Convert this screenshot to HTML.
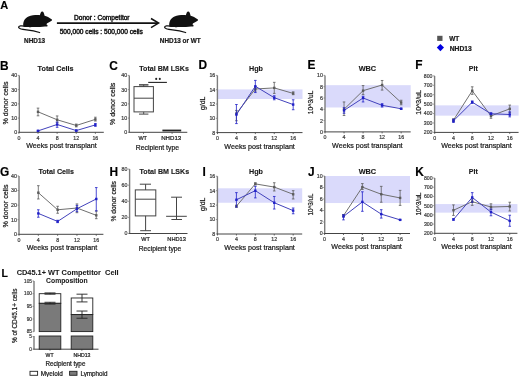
<!DOCTYPE html>
<html><head><meta charset="utf-8"><style>
html,body{margin:0;padding:0;background:#fff;}
svg{display:block;filter:blur(0.4px);}
text{font-family:"Liberation Sans",sans-serif;}
</style></head><body>
<svg width="520" height="377" viewBox="0 0 520 377">
<rect width="520" height="377" fill="#fff"/>
<text x="0.30" y="8.70" font-size="11.0" font-weight="bold" text-anchor="start" fill="#000" stroke="#000" stroke-width="0.15" >A</text>
<g transform="translate(0,0)"><path d="M23.4,26.4 C22.6,22.5 24.5,18.4 28.5,16.6 C31.5,15.2 35.5,14.9 38.5,15.0 C39.0,15.0 39.5,15.1 39.9,15.3 C40.2,13.8 40.7,12.3 41.5,11.8 C42.3,11.3 43.2,11.7 43.6,12.5 C44.0,13.4 44.3,14.5 44.6,15.7 C46.5,16.2 49.5,17.6 51.9,19.5 C52.3,19.9 51.9,20.6 51.2,21.0 C49.8,21.9 48.3,22.6 47.2,23.2 L46.4,24.3 C47.1,24.8 47.7,25.4 47.6,26.0 C47.4,26.6 46.0,26.6 45.0,26.4 C41.0,26.9 36.0,27.0 31.5,26.9 C30.6,27.3 29.4,27.4 28.8,27.0 C26.5,27.1 24.3,27.0 23.4,26.4 Z" fill="#111"/><path d="M24.4,26.1 C21.5,25.5 18.7,25.8 18.6,27.2 C18.6,28.6 22,29.4 26.5,29.9 C30.5,30.4 34.5,31.0 39.6,32.5" fill="none" stroke="#111" stroke-width="1.3" stroke-linecap="round"/></g>
<g transform="translate(146,0)"><path d="M23.4,26.4 C22.6,22.5 24.5,18.4 28.5,16.6 C31.5,15.2 35.5,14.9 38.5,15.0 C39.0,15.0 39.5,15.1 39.9,15.3 C40.2,13.8 40.7,12.3 41.5,11.8 C42.3,11.3 43.2,11.7 43.6,12.5 C44.0,13.4 44.3,14.5 44.6,15.7 C46.5,16.2 49.5,17.6 51.9,19.5 C52.3,19.9 51.9,20.6 51.2,21.0 C49.8,21.9 48.3,22.6 47.2,23.2 L46.4,24.3 C47.1,24.8 47.7,25.4 47.6,26.0 C47.4,26.6 46.0,26.6 45.0,26.4 C41.0,26.9 36.0,27.0 31.5,26.9 C30.6,27.3 29.4,27.4 28.8,27.0 C26.5,27.1 24.3,27.0 23.4,26.4 Z" fill="#111"/><path d="M24.4,26.1 C21.5,25.5 18.7,25.8 18.6,27.2 C18.6,28.6 22,29.4 26.5,29.9 C30.5,30.4 34.5,31.0 39.6,32.5" fill="none" stroke="#111" stroke-width="1.3" stroke-linecap="round"/></g>
<text x="34.60" y="42.70" font-size="6.5" font-weight="bold" text-anchor="middle" fill="#1a1a1a" stroke="#1a1a1a" stroke-width="0.22" textLength="21.0" lengthAdjust="spacingAndGlyphs" >NHD13</text>
<text x="180.20" y="42.90" font-size="6.5" font-weight="bold" text-anchor="middle" fill="#1a1a1a" stroke="#1a1a1a" stroke-width="0.22" textLength="40.8" lengthAdjust="spacingAndGlyphs" >NHD13 or WT</text>
<line x1="56.90" y1="23.10" x2="158.00" y2="23.10" stroke="#111" stroke-width="1.6" />
<polyline points="151,18.5 158.6,23.1 151,27.7" fill="none" stroke="#111" stroke-width="1.5"/>
<text x="101.80" y="19.60" font-size="6.6" font-weight="normal" text-anchor="middle" fill="#1a1a1a" stroke="#1a1a1a" stroke-width="0.45" textLength="55.5" lengthAdjust="spacingAndGlyphs" >Donor : Competitor</text>
<text x="101.30" y="33.80" font-size="6.6" font-weight="normal" text-anchor="middle" fill="#1a1a1a" stroke="#1a1a1a" stroke-width="0.45" textLength="83.2" lengthAdjust="spacingAndGlyphs" >500,000 cells : 500,000 cells</text>
<rect x="437.20" y="35.80" width="5.30" height="5.10" fill="#555" stroke="none" stroke-width="0"/>
<polygon points="440.4,43.9 444,47.6 440.4,51.3 436.8,47.6" fill="#0000e0"/>
<text x="449.30" y="40.90" font-size="6.5" font-weight="bold" text-anchor="start" fill="#1a1a1a" stroke="#1a1a1a" stroke-width="0.22" textLength="10.0" lengthAdjust="spacingAndGlyphs" >WT</text>
<text x="449.70" y="50.80" font-size="6.6" font-weight="bold" text-anchor="start" fill="#1a1a1a" stroke="#1a1a1a" stroke-width="0.22" textLength="22.0" lengthAdjust="spacingAndGlyphs" >NHD13</text>
<text x="0.10" y="69.60" font-size="11.9" font-weight="bold" text-anchor="start" fill="#000" stroke="#000" stroke-width="0.15" >B</text>
<line x1="19.30" y1="75.40" x2="19.30" y2="132.30" stroke="#7c7c7c" stroke-width="1.4" />
<line x1="17.80" y1="132.30" x2="19.30" y2="132.30" stroke="#7c7c7c" stroke-width="0.8" />
<text x="17.20" y="134.21" font-size="5.3" font-weight="normal" text-anchor="end" fill="#3a3a3a" stroke="#3a3a3a" stroke-width="0.2" >0</text>
<line x1="17.80" y1="118.08" x2="19.30" y2="118.08" stroke="#7c7c7c" stroke-width="0.8" />
<text x="17.20" y="119.98" font-size="5.3" font-weight="normal" text-anchor="end" fill="#3a3a3a" stroke="#3a3a3a" stroke-width="0.2" >10</text>
<line x1="17.80" y1="103.85" x2="19.30" y2="103.85" stroke="#7c7c7c" stroke-width="0.8" />
<text x="17.20" y="105.76" font-size="5.3" font-weight="normal" text-anchor="end" fill="#3a3a3a" stroke="#3a3a3a" stroke-width="0.2" >20</text>
<line x1="17.80" y1="89.62" x2="19.30" y2="89.62" stroke="#7c7c7c" stroke-width="0.8" />
<text x="17.20" y="91.53" font-size="5.3" font-weight="normal" text-anchor="end" fill="#3a3a3a" stroke="#3a3a3a" stroke-width="0.2" >30</text>
<line x1="17.80" y1="75.40" x2="19.30" y2="75.40" stroke="#7c7c7c" stroke-width="0.8" />
<text x="17.20" y="77.31" font-size="5.3" font-weight="normal" text-anchor="end" fill="#3a3a3a" stroke="#3a3a3a" stroke-width="0.2" >40</text>
<line x1="18.80" y1="132.30" x2="103.80" y2="132.30" stroke="#444" stroke-width="1.0" />
<line x1="18.90" y1="132.30" x2="18.90" y2="133.80" stroke="#444" stroke-width="0.8" />
<text x="18.90" y="139.50" font-size="5.3" font-weight="normal" text-anchor="middle" fill="#3a3a3a" stroke="#3a3a3a" stroke-width="0.2" >0</text>
<line x1="38.02" y1="132.30" x2="38.02" y2="133.80" stroke="#444" stroke-width="0.8" />
<text x="38.02" y="139.50" font-size="5.3" font-weight="normal" text-anchor="middle" fill="#3a3a3a" stroke="#3a3a3a" stroke-width="0.2" >4</text>
<line x1="57.14" y1="132.30" x2="57.14" y2="133.80" stroke="#444" stroke-width="0.8" />
<text x="57.14" y="139.50" font-size="5.3" font-weight="normal" text-anchor="middle" fill="#3a3a3a" stroke="#3a3a3a" stroke-width="0.2" >8</text>
<line x1="76.26" y1="132.30" x2="76.26" y2="133.80" stroke="#444" stroke-width="0.8" />
<text x="76.26" y="139.50" font-size="5.3" font-weight="normal" text-anchor="middle" fill="#3a3a3a" stroke="#3a3a3a" stroke-width="0.2" >12</text>
<line x1="95.38" y1="132.30" x2="95.38" y2="133.80" stroke="#444" stroke-width="0.8" />
<text x="95.38" y="139.50" font-size="5.3" font-weight="normal" text-anchor="middle" fill="#3a3a3a" stroke="#3a3a3a" stroke-width="0.2" >16</text>
<polyline points="38.02,111.82 57.14,119.78 76.26,125.47 95.38,119.36" fill="none" stroke="#707070" stroke-width="1.0"/>
<line x1="38.02" y1="108.12" x2="38.02" y2="115.80" stroke="#5c5c5c" stroke-width="0.8" />
<line x1="36.72" y1="108.12" x2="39.32" y2="108.12" stroke="#5c5c5c" stroke-width="0.8" />
<line x1="36.72" y1="115.80" x2="39.32" y2="115.80" stroke="#5c5c5c" stroke-width="0.8" />
<rect x="36.82" y="110.62" width="2.40" height="2.40" fill="#5c5c5c" stroke="none" stroke-width="0"/>
<line x1="57.14" y1="115.94" x2="57.14" y2="122.34" stroke="#5c5c5c" stroke-width="0.8" />
<line x1="55.84" y1="115.94" x2="58.44" y2="115.94" stroke="#5c5c5c" stroke-width="0.8" />
<line x1="55.84" y1="122.34" x2="58.44" y2="122.34" stroke="#5c5c5c" stroke-width="0.8" />
<rect x="55.94" y="118.58" width="2.40" height="2.40" fill="#5c5c5c" stroke="none" stroke-width="0"/>
<line x1="76.26" y1="124.05" x2="76.26" y2="126.89" stroke="#5c5c5c" stroke-width="0.8" />
<line x1="74.96" y1="124.05" x2="77.56" y2="124.05" stroke="#5c5c5c" stroke-width="0.8" />
<line x1="74.96" y1="126.89" x2="77.56" y2="126.89" stroke="#5c5c5c" stroke-width="0.8" />
<rect x="75.06" y="124.27" width="2.40" height="2.40" fill="#5c5c5c" stroke="none" stroke-width="0"/>
<line x1="95.38" y1="117.22" x2="95.38" y2="121.06" stroke="#5c5c5c" stroke-width="0.8" />
<line x1="94.08" y1="117.22" x2="96.68" y2="117.22" stroke="#5c5c5c" stroke-width="0.8" />
<line x1="94.08" y1="121.06" x2="96.68" y2="121.06" stroke="#5c5c5c" stroke-width="0.8" />
<rect x="94.18" y="118.16" width="2.40" height="2.40" fill="#5c5c5c" stroke="none" stroke-width="0"/>
<polyline points="38.02,130.88 57.14,124.48 76.26,130.59 95.38,124.90" fill="none" stroke="#4242bc" stroke-width="1.0"/>
<line x1="38.02" y1="130.31" x2="38.02" y2="131.45" stroke="#2020c8" stroke-width="0.8" />
<line x1="36.72" y1="130.31" x2="39.32" y2="130.31" stroke="#2020c8" stroke-width="0.8" />
<line x1="36.72" y1="131.45" x2="39.32" y2="131.45" stroke="#2020c8" stroke-width="0.8" />
<rect x="36.82" y="129.68" width="2.40" height="2.40" fill="#2020c8" stroke="none" stroke-width="0"/>
<line x1="57.14" y1="122.06" x2="57.14" y2="127.32" stroke="#2020c8" stroke-width="0.8" />
<line x1="55.84" y1="122.06" x2="58.44" y2="122.06" stroke="#2020c8" stroke-width="0.8" />
<line x1="55.84" y1="127.32" x2="58.44" y2="127.32" stroke="#2020c8" stroke-width="0.8" />
<rect x="55.94" y="123.28" width="2.40" height="2.40" fill="#2020c8" stroke="none" stroke-width="0"/>
<line x1="76.26" y1="129.88" x2="76.26" y2="131.30" stroke="#2020c8" stroke-width="0.8" />
<line x1="74.96" y1="129.88" x2="77.56" y2="129.88" stroke="#2020c8" stroke-width="0.8" />
<line x1="74.96" y1="131.30" x2="77.56" y2="131.30" stroke="#2020c8" stroke-width="0.8" />
<rect x="75.06" y="129.39" width="2.40" height="2.40" fill="#2020c8" stroke="none" stroke-width="0"/>
<line x1="95.38" y1="123.48" x2="95.38" y2="126.33" stroke="#2020c8" stroke-width="0.8" />
<line x1="94.08" y1="123.48" x2="96.68" y2="123.48" stroke="#2020c8" stroke-width="0.8" />
<line x1="94.08" y1="126.33" x2="96.68" y2="126.33" stroke="#2020c8" stroke-width="0.8" />
<rect x="94.18" y="123.70" width="2.40" height="2.40" fill="#2020c8" stroke="none" stroke-width="0"/>
<text x="55.60" y="70.80" font-size="7.7" font-weight="bold" text-anchor="middle" fill="#1a1a1a" stroke="#1a1a1a" stroke-width="0.14" textLength="36.0" lengthAdjust="spacingAndGlyphs" >Total Cells</text>
<text x="7.60" y="103.00" font-size="7.2" font-weight="normal" text-anchor="middle" fill="#1a1a1a" stroke="#1a1a1a" stroke-width="0.22" transform="rotate(-90 7.60 103.00)" textLength="43.0" lengthAdjust="spacingAndGlyphs" >% donor cells</text>
<text x="61.44" y="148.20" font-size="7.2" font-weight="normal" text-anchor="middle" fill="#1a1a1a" stroke="#1a1a1a" stroke-width="0.22" textLength="70.5" lengthAdjust="spacingAndGlyphs" >Weeks post transplant</text>
<text x="109.20" y="69.60" font-size="11.9" font-weight="bold" text-anchor="start" fill="#000" stroke="#000" stroke-width="0.15" >C</text>
<line x1="129.30" y1="75.40" x2="129.30" y2="132.30" stroke="#7c7c7c" stroke-width="1.4" />
<line x1="127.80" y1="132.30" x2="129.30" y2="132.30" stroke="#7c7c7c" stroke-width="0.8" />
<text x="127.20" y="134.21" font-size="5.3" font-weight="normal" text-anchor="end" fill="#3a3a3a" stroke="#3a3a3a" stroke-width="0.2" >0</text>
<line x1="127.80" y1="118.08" x2="129.30" y2="118.08" stroke="#7c7c7c" stroke-width="0.8" />
<text x="127.20" y="119.98" font-size="5.3" font-weight="normal" text-anchor="end" fill="#3a3a3a" stroke="#3a3a3a" stroke-width="0.2" >10</text>
<line x1="127.80" y1="103.85" x2="129.30" y2="103.85" stroke="#7c7c7c" stroke-width="0.8" />
<text x="127.20" y="105.76" font-size="5.3" font-weight="normal" text-anchor="end" fill="#3a3a3a" stroke="#3a3a3a" stroke-width="0.2" >20</text>
<line x1="127.80" y1="89.62" x2="129.30" y2="89.62" stroke="#7c7c7c" stroke-width="0.8" />
<text x="127.20" y="91.53" font-size="5.3" font-weight="normal" text-anchor="end" fill="#3a3a3a" stroke="#3a3a3a" stroke-width="0.2" >30</text>
<line x1="127.80" y1="75.40" x2="129.30" y2="75.40" stroke="#7c7c7c" stroke-width="0.8" />
<text x="127.20" y="77.31" font-size="5.3" font-weight="normal" text-anchor="end" fill="#3a3a3a" stroke="#3a3a3a" stroke-width="0.2" >40</text>
<line x1="128.80" y1="132.30" x2="187.30" y2="132.30" stroke="#444" stroke-width="1.0" />
<line x1="143.50" y1="132.30" x2="143.50" y2="133.80" stroke="#444" stroke-width="0.8" />
<line x1="172.10" y1="132.30" x2="172.10" y2="133.80" stroke="#444" stroke-width="0.8" />
<text x="142.70" y="139.80" font-size="5.9" font-weight="normal" text-anchor="middle" fill="#1a1a1a" stroke="#1a1a1a" stroke-width="0.22" textLength="8.6" lengthAdjust="spacingAndGlyphs" >WT</text>
<text x="171.20" y="139.80" font-size="5.9" font-weight="normal" text-anchor="middle" fill="#1a1a1a" stroke="#1a1a1a" stroke-width="0.22" textLength="20.0" lengthAdjust="spacingAndGlyphs" >NHD13</text>
<text x="157.40" y="150.10" font-size="6.8" font-weight="normal" text-anchor="middle" fill="#1a1a1a" stroke="#1a1a1a" stroke-width="0.22" textLength="43.2" lengthAdjust="spacingAndGlyphs" >Recipient type</text>
<text x="164.10" y="71.30" font-size="7.6" font-weight="bold" text-anchor="middle" fill="#1a1a1a" stroke="#1a1a1a" stroke-width="0.14" textLength="49.6" lengthAdjust="spacingAndGlyphs" >Total BM LSKs</text>
<text x="115.40" y="103.85" font-size="7.2" font-weight="normal" text-anchor="middle" fill="#1a1a1a" stroke="#1a1a1a" stroke-width="0.22" transform="rotate(-90 115.40 103.85)" textLength="42.5" lengthAdjust="spacingAndGlyphs" >% donor cells</text>
<rect x="139.00" y="84.60" width="9.40" height="2.00" fill="#9a9a9a" stroke="none" stroke-width="0"/>
<line x1="143.70" y1="84.80" x2="143.70" y2="86.90" stroke="#444" stroke-width="0.9" />
<line x1="139.00" y1="84.60" x2="148.40" y2="84.60" stroke="#444" stroke-width="0.9" />
<rect x="134.0" y="86.6" width="19.40" height="25.30" fill="none" stroke="#444" stroke-width="1.0"/>
<line x1="134.00" y1="98.20" x2="153.40" y2="98.20" stroke="#444" stroke-width="1.0" />
<line x1="143.70" y1="111.90" x2="143.70" y2="114.10" stroke="#444" stroke-width="0.9" />
<line x1="139.00" y1="114.10" x2="148.40" y2="114.10" stroke="#444" stroke-width="1.0" />
<rect x="162.40" y="129.60" width="18.80" height="1.80" fill="#222" stroke="none" stroke-width="0"/>
<line x1="148.20" y1="82.40" x2="166.90" y2="82.40" stroke="#222" stroke-width="1.1" />
<circle cx="156.2" cy="78.9" r="1.05" fill="#222"/><circle cx="159.8" cy="78.9" r="1.05" fill="#222"/>
<text x="198.60" y="69.40" font-size="11.9" font-weight="bold" text-anchor="start" fill="#000" stroke="#000" stroke-width="0.15" >D</text>
<rect x="217.40" y="89.41" width="85.10" height="9.58" fill="#dadafb" stroke="none" stroke-width="0"/>
<line x1="217.40" y1="75.40" x2="217.40" y2="132.60" stroke="#7c7c7c" stroke-width="1.4" />
<line x1="215.90" y1="132.60" x2="217.40" y2="132.60" stroke="#7c7c7c" stroke-width="0.8" />
<text x="215.30" y="134.51" font-size="5.3" font-weight="normal" text-anchor="end" fill="#3a3a3a" stroke="#3a3a3a" stroke-width="0.2" >8</text>
<line x1="215.90" y1="118.30" x2="217.40" y2="118.30" stroke="#7c7c7c" stroke-width="0.8" />
<text x="215.30" y="120.21" font-size="5.3" font-weight="normal" text-anchor="end" fill="#3a3a3a" stroke="#3a3a3a" stroke-width="0.2" >10</text>
<line x1="215.90" y1="104.00" x2="217.40" y2="104.00" stroke="#7c7c7c" stroke-width="0.8" />
<text x="215.30" y="105.91" font-size="5.3" font-weight="normal" text-anchor="end" fill="#3a3a3a" stroke="#3a3a3a" stroke-width="0.2" >12</text>
<line x1="215.90" y1="89.70" x2="217.40" y2="89.70" stroke="#7c7c7c" stroke-width="0.8" />
<text x="215.30" y="91.61" font-size="5.3" font-weight="normal" text-anchor="end" fill="#3a3a3a" stroke="#3a3a3a" stroke-width="0.2" >14</text>
<line x1="215.90" y1="75.40" x2="217.40" y2="75.40" stroke="#7c7c7c" stroke-width="0.8" />
<text x="215.30" y="77.31" font-size="5.3" font-weight="normal" text-anchor="end" fill="#3a3a3a" stroke="#3a3a3a" stroke-width="0.2" >16</text>
<line x1="216.90" y1="132.60" x2="302.50" y2="132.60" stroke="#444" stroke-width="1.0" />
<line x1="217.50" y1="132.60" x2="217.50" y2="134.10" stroke="#444" stroke-width="0.8" />
<text x="217.50" y="139.80" font-size="5.3" font-weight="normal" text-anchor="middle" fill="#3a3a3a" stroke="#3a3a3a" stroke-width="0.2" >0</text>
<line x1="236.42" y1="132.60" x2="236.42" y2="134.10" stroke="#444" stroke-width="0.8" />
<text x="236.42" y="139.80" font-size="5.3" font-weight="normal" text-anchor="middle" fill="#3a3a3a" stroke="#3a3a3a" stroke-width="0.2" >4</text>
<line x1="255.34" y1="132.60" x2="255.34" y2="134.10" stroke="#444" stroke-width="0.8" />
<text x="255.34" y="139.80" font-size="5.3" font-weight="normal" text-anchor="middle" fill="#3a3a3a" stroke="#3a3a3a" stroke-width="0.2" >8</text>
<line x1="274.26" y1="132.60" x2="274.26" y2="134.10" stroke="#444" stroke-width="0.8" />
<text x="274.26" y="139.80" font-size="5.3" font-weight="normal" text-anchor="middle" fill="#3a3a3a" stroke="#3a3a3a" stroke-width="0.2" >12</text>
<line x1="293.18" y1="132.60" x2="293.18" y2="134.10" stroke="#444" stroke-width="0.8" />
<text x="293.18" y="139.80" font-size="5.3" font-weight="normal" text-anchor="middle" fill="#3a3a3a" stroke="#3a3a3a" stroke-width="0.2" >16</text>
<polyline points="236.42,113.51 255.34,88.98 274.26,87.91 293.18,93.42" fill="none" stroke="#707070" stroke-width="1.0"/>
<line x1="236.42" y1="110.44" x2="236.42" y2="120.73" stroke="#5c5c5c" stroke-width="0.8" />
<line x1="235.12" y1="110.44" x2="237.72" y2="110.44" stroke="#5c5c5c" stroke-width="0.8" />
<line x1="235.12" y1="120.73" x2="237.72" y2="120.73" stroke="#5c5c5c" stroke-width="0.8" />
<rect x="235.22" y="112.31" width="2.40" height="2.40" fill="#5c5c5c" stroke="none" stroke-width="0"/>
<line x1="255.34" y1="86.84" x2="255.34" y2="91.13" stroke="#5c5c5c" stroke-width="0.8" />
<line x1="254.04" y1="86.84" x2="256.64" y2="86.84" stroke="#5c5c5c" stroke-width="0.8" />
<line x1="254.04" y1="91.13" x2="256.64" y2="91.13" stroke="#5c5c5c" stroke-width="0.8" />
<rect x="254.14" y="87.78" width="2.40" height="2.40" fill="#5c5c5c" stroke="none" stroke-width="0"/>
<line x1="274.26" y1="82.34" x2="274.26" y2="93.42" stroke="#5c5c5c" stroke-width="0.8" />
<line x1="272.96" y1="82.34" x2="275.56" y2="82.34" stroke="#5c5c5c" stroke-width="0.8" />
<line x1="272.96" y1="93.42" x2="275.56" y2="93.42" stroke="#5c5c5c" stroke-width="0.8" />
<rect x="273.06" y="86.71" width="2.40" height="2.40" fill="#5c5c5c" stroke="none" stroke-width="0"/>
<line x1="293.18" y1="91.84" x2="293.18" y2="94.70" stroke="#5c5c5c" stroke-width="0.8" />
<line x1="291.88" y1="91.84" x2="294.48" y2="91.84" stroke="#5c5c5c" stroke-width="0.8" />
<line x1="291.88" y1="94.70" x2="294.48" y2="94.70" stroke="#5c5c5c" stroke-width="0.8" />
<rect x="291.98" y="92.22" width="2.40" height="2.40" fill="#5c5c5c" stroke="none" stroke-width="0"/>
<polyline points="236.42,114.58 255.34,86.27 274.26,97.71 293.18,104.57" fill="none" stroke="#4242bc" stroke-width="1.0"/>
<line x1="236.42" y1="104.50" x2="236.42" y2="123.59" stroke="#2020c8" stroke-width="0.8" />
<line x1="235.12" y1="104.50" x2="237.72" y2="104.50" stroke="#2020c8" stroke-width="0.8" />
<line x1="235.12" y1="123.59" x2="237.72" y2="123.59" stroke="#2020c8" stroke-width="0.8" />
<rect x="235.22" y="113.38" width="2.40" height="2.40" fill="#2020c8" stroke="none" stroke-width="0"/>
<line x1="255.34" y1="80.40" x2="255.34" y2="92.56" stroke="#2020c8" stroke-width="0.8" />
<line x1="254.04" y1="80.40" x2="256.64" y2="80.40" stroke="#2020c8" stroke-width="0.8" />
<line x1="254.04" y1="92.56" x2="256.64" y2="92.56" stroke="#2020c8" stroke-width="0.8" />
<rect x="254.14" y="85.07" width="2.40" height="2.40" fill="#2020c8" stroke="none" stroke-width="0"/>
<line x1="274.26" y1="95.78" x2="274.26" y2="99.78" stroke="#2020c8" stroke-width="0.8" />
<line x1="272.96" y1="95.78" x2="275.56" y2="95.78" stroke="#2020c8" stroke-width="0.8" />
<line x1="272.96" y1="99.78" x2="275.56" y2="99.78" stroke="#2020c8" stroke-width="0.8" />
<rect x="273.06" y="96.51" width="2.40" height="2.40" fill="#2020c8" stroke="none" stroke-width="0"/>
<line x1="293.18" y1="99.78" x2="293.18" y2="109.72" stroke="#2020c8" stroke-width="0.8" />
<line x1="291.88" y1="99.78" x2="294.48" y2="99.78" stroke="#2020c8" stroke-width="0.8" />
<line x1="291.88" y1="109.72" x2="294.48" y2="109.72" stroke="#2020c8" stroke-width="0.8" />
<rect x="291.98" y="103.37" width="2.40" height="2.40" fill="#2020c8" stroke="none" stroke-width="0"/>
<text x="256.00" y="71.10" font-size="7.7" font-weight="bold" text-anchor="middle" fill="#1a1a1a" stroke="#1a1a1a" stroke-width="0.14" textLength="14.0" lengthAdjust="spacingAndGlyphs" >Hgb</text>
<text x="205.30" y="103.40" font-size="6.4" font-weight="normal" text-anchor="middle" fill="#1a1a1a" stroke="#1a1a1a" stroke-width="0.22" transform="rotate(-90 205.30 103.40)" textLength="13.4" lengthAdjust="spacingAndGlyphs" >g/dL</text>
<text x="259.60" y="148.50" font-size="7.2" font-weight="normal" text-anchor="middle" fill="#1a1a1a" stroke="#1a1a1a" stroke-width="0.22" textLength="70.5" lengthAdjust="spacingAndGlyphs" >Weeks post transplant</text>
<text x="307.60" y="69.40" font-size="11.9" font-weight="bold" text-anchor="start" fill="#000" stroke="#000" stroke-width="0.15" >E</text>
<rect x="325.00" y="85.17" width="85.70" height="22.32" fill="#dadafb" stroke="none" stroke-width="0"/>
<line x1="325.00" y1="75.40" x2="325.00" y2="131.90" stroke="#7c7c7c" stroke-width="1.4" />
<line x1="323.50" y1="131.90" x2="325.00" y2="131.90" stroke="#7c7c7c" stroke-width="0.8" />
<text x="322.90" y="133.81" font-size="5.3" font-weight="normal" text-anchor="end" fill="#3a3a3a" stroke="#3a3a3a" stroke-width="0.2" >0</text>
<line x1="323.50" y1="120.60" x2="325.00" y2="120.60" stroke="#7c7c7c" stroke-width="0.8" />
<text x="322.90" y="122.51" font-size="5.3" font-weight="normal" text-anchor="end" fill="#3a3a3a" stroke="#3a3a3a" stroke-width="0.2" >2</text>
<line x1="323.50" y1="109.30" x2="325.00" y2="109.30" stroke="#7c7c7c" stroke-width="0.8" />
<text x="322.90" y="111.21" font-size="5.3" font-weight="normal" text-anchor="end" fill="#3a3a3a" stroke="#3a3a3a" stroke-width="0.2" >4</text>
<line x1="323.50" y1="98.00" x2="325.00" y2="98.00" stroke="#7c7c7c" stroke-width="0.8" />
<text x="322.90" y="99.91" font-size="5.3" font-weight="normal" text-anchor="end" fill="#3a3a3a" stroke="#3a3a3a" stroke-width="0.2" >6</text>
<line x1="323.50" y1="86.70" x2="325.00" y2="86.70" stroke="#7c7c7c" stroke-width="0.8" />
<text x="322.90" y="88.61" font-size="5.3" font-weight="normal" text-anchor="end" fill="#3a3a3a" stroke="#3a3a3a" stroke-width="0.2" >8</text>
<line x1="323.50" y1="75.40" x2="325.00" y2="75.40" stroke="#7c7c7c" stroke-width="0.8" />
<text x="322.90" y="77.31" font-size="5.3" font-weight="normal" text-anchor="end" fill="#3a3a3a" stroke="#3a3a3a" stroke-width="0.2" >10</text>
<line x1="324.50" y1="131.90" x2="410.70" y2="131.90" stroke="#444" stroke-width="1.0" />
<line x1="325.00" y1="131.90" x2="325.00" y2="133.40" stroke="#444" stroke-width="0.8" />
<text x="325.00" y="139.10" font-size="5.3" font-weight="normal" text-anchor="middle" fill="#3a3a3a" stroke="#3a3a3a" stroke-width="0.2" >0</text>
<line x1="344.04" y1="131.90" x2="344.04" y2="133.40" stroke="#444" stroke-width="0.8" />
<text x="344.04" y="139.10" font-size="5.3" font-weight="normal" text-anchor="middle" fill="#3a3a3a" stroke="#3a3a3a" stroke-width="0.2" >4</text>
<line x1="363.08" y1="131.90" x2="363.08" y2="133.40" stroke="#444" stroke-width="0.8" />
<text x="363.08" y="139.10" font-size="5.3" font-weight="normal" text-anchor="middle" fill="#3a3a3a" stroke="#3a3a3a" stroke-width="0.2" >8</text>
<line x1="382.12" y1="131.90" x2="382.12" y2="133.40" stroke="#444" stroke-width="0.8" />
<text x="382.12" y="139.10" font-size="5.3" font-weight="normal" text-anchor="middle" fill="#3a3a3a" stroke="#3a3a3a" stroke-width="0.2" >12</text>
<line x1="401.16" y1="131.90" x2="401.16" y2="133.40" stroke="#444" stroke-width="0.8" />
<text x="401.16" y="139.10" font-size="5.3" font-weight="normal" text-anchor="middle" fill="#3a3a3a" stroke="#3a3a3a" stroke-width="0.2" >16</text>
<polyline points="344.04,109.30 363.08,90.66 382.12,85.00 401.16,102.52" fill="none" stroke="#707070" stroke-width="1.0"/>
<line x1="344.04" y1="101.96" x2="344.04" y2="115.52" stroke="#5c5c5c" stroke-width="0.8" />
<line x1="342.74" y1="101.96" x2="345.34" y2="101.96" stroke="#5c5c5c" stroke-width="0.8" />
<line x1="342.74" y1="115.52" x2="345.34" y2="115.52" stroke="#5c5c5c" stroke-width="0.8" />
<rect x="342.84" y="108.10" width="2.40" height="2.40" fill="#5c5c5c" stroke="none" stroke-width="0"/>
<line x1="363.08" y1="85.57" x2="363.08" y2="94.61" stroke="#5c5c5c" stroke-width="0.8" />
<line x1="361.78" y1="85.57" x2="364.38" y2="85.57" stroke="#5c5c5c" stroke-width="0.8" />
<line x1="361.78" y1="94.61" x2="364.38" y2="94.61" stroke="#5c5c5c" stroke-width="0.8" />
<rect x="361.88" y="89.45" width="2.40" height="2.40" fill="#5c5c5c" stroke="none" stroke-width="0"/>
<line x1="382.12" y1="80.49" x2="382.12" y2="90.09" stroke="#5c5c5c" stroke-width="0.8" />
<line x1="380.82" y1="80.49" x2="383.42" y2="80.49" stroke="#5c5c5c" stroke-width="0.8" />
<line x1="380.82" y1="90.09" x2="383.42" y2="90.09" stroke="#5c5c5c" stroke-width="0.8" />
<rect x="380.92" y="83.80" width="2.40" height="2.40" fill="#5c5c5c" stroke="none" stroke-width="0"/>
<line x1="401.16" y1="100.26" x2="401.16" y2="104.78" stroke="#5c5c5c" stroke-width="0.8" />
<line x1="399.86" y1="100.26" x2="402.46" y2="100.26" stroke="#5c5c5c" stroke-width="0.8" />
<line x1="399.86" y1="104.78" x2="402.46" y2="104.78" stroke="#5c5c5c" stroke-width="0.8" />
<rect x="399.96" y="101.32" width="2.40" height="2.40" fill="#5c5c5c" stroke="none" stroke-width="0"/>
<polyline points="344.04,110.43 363.08,98.00 382.12,105.34 401.16,108.74" fill="none" stroke="#4242bc" stroke-width="1.0"/>
<line x1="344.04" y1="107.61" x2="344.04" y2="113.26" stroke="#2020c8" stroke-width="0.8" />
<line x1="342.74" y1="107.61" x2="345.34" y2="107.61" stroke="#2020c8" stroke-width="0.8" />
<line x1="342.74" y1="113.26" x2="345.34" y2="113.26" stroke="#2020c8" stroke-width="0.8" />
<rect x="342.84" y="109.23" width="2.40" height="2.40" fill="#2020c8" stroke="none" stroke-width="0"/>
<line x1="363.08" y1="96.31" x2="363.08" y2="101.96" stroke="#2020c8" stroke-width="0.8" />
<line x1="361.78" y1="96.31" x2="364.38" y2="96.31" stroke="#2020c8" stroke-width="0.8" />
<line x1="361.78" y1="101.96" x2="364.38" y2="101.96" stroke="#2020c8" stroke-width="0.8" />
<rect x="361.88" y="96.80" width="2.40" height="2.40" fill="#2020c8" stroke="none" stroke-width="0"/>
<line x1="382.12" y1="103.65" x2="382.12" y2="107.04" stroke="#2020c8" stroke-width="0.8" />
<line x1="380.82" y1="103.65" x2="383.42" y2="103.65" stroke="#2020c8" stroke-width="0.8" />
<line x1="380.82" y1="107.04" x2="383.42" y2="107.04" stroke="#2020c8" stroke-width="0.8" />
<rect x="380.92" y="104.14" width="2.40" height="2.40" fill="#2020c8" stroke="none" stroke-width="0"/>
<line x1="401.16" y1="108.17" x2="401.16" y2="109.30" stroke="#2020c8" stroke-width="0.8" />
<line x1="399.86" y1="108.17" x2="402.46" y2="108.17" stroke="#2020c8" stroke-width="0.8" />
<line x1="399.86" y1="109.30" x2="402.46" y2="109.30" stroke="#2020c8" stroke-width="0.8" />
<rect x="399.96" y="107.54" width="2.40" height="2.40" fill="#2020c8" stroke="none" stroke-width="0"/>
<text x="367.40" y="71.00" font-size="7.7" font-weight="bold" text-anchor="middle" fill="#1a1a1a" stroke="#1a1a1a" stroke-width="0.14" textLength="17.5" lengthAdjust="spacingAndGlyphs" >WBC</text>
<text x="313.00" y="102.40" font-size="7.2" font-weight="normal" text-anchor="middle" fill="#1a1a1a" stroke="#1a1a1a" stroke-width="0.22" transform="rotate(-90 313.00 102.40)" textLength="23.5" lengthAdjust="spacingAndGlyphs" >10^3/uL</text>
<text x="367.36" y="147.80" font-size="7.2" font-weight="normal" text-anchor="middle" fill="#1a1a1a" stroke="#1a1a1a" stroke-width="0.22" textLength="70.5" lengthAdjust="spacingAndGlyphs" >Weeks post transplant</text>
<text x="415.20" y="69.40" font-size="11.9" font-weight="bold" text-anchor="start" fill="#000" stroke="#000" stroke-width="0.15" >F</text>
<rect x="434.60" y="105.36" width="84.00" height="10.27" fill="#dadafb" stroke="none" stroke-width="0"/>
<line x1="434.60" y1="75.90" x2="434.60" y2="132.40" stroke="#7c7c7c" stroke-width="1.4" />
<line x1="433.10" y1="132.40" x2="434.60" y2="132.40" stroke="#7c7c7c" stroke-width="0.8" />
<text x="432.50" y="134.27" font-size="5.2" font-weight="normal" text-anchor="end" fill="#3a3a3a" stroke="#3a3a3a" stroke-width="0.2" >200</text>
<line x1="433.10" y1="122.98" x2="434.60" y2="122.98" stroke="#7c7c7c" stroke-width="0.8" />
<text x="432.50" y="124.85" font-size="5.2" font-weight="normal" text-anchor="end" fill="#3a3a3a" stroke="#3a3a3a" stroke-width="0.2" >300</text>
<line x1="433.10" y1="113.56" x2="434.60" y2="113.56" stroke="#7c7c7c" stroke-width="0.8" />
<text x="432.50" y="115.43" font-size="5.2" font-weight="normal" text-anchor="end" fill="#3a3a3a" stroke="#3a3a3a" stroke-width="0.2" >400</text>
<line x1="433.10" y1="104.14" x2="434.60" y2="104.14" stroke="#7c7c7c" stroke-width="0.8" />
<text x="432.50" y="106.01" font-size="5.2" font-weight="normal" text-anchor="end" fill="#3a3a3a" stroke="#3a3a3a" stroke-width="0.2" >500</text>
<line x1="433.10" y1="94.72" x2="434.60" y2="94.72" stroke="#7c7c7c" stroke-width="0.8" />
<text x="432.50" y="96.59" font-size="5.2" font-weight="normal" text-anchor="end" fill="#3a3a3a" stroke="#3a3a3a" stroke-width="0.2" >600</text>
<line x1="433.10" y1="85.30" x2="434.60" y2="85.30" stroke="#7c7c7c" stroke-width="0.8" />
<text x="432.50" y="87.17" font-size="5.2" font-weight="normal" text-anchor="end" fill="#3a3a3a" stroke="#3a3a3a" stroke-width="0.2" >700</text>
<line x1="433.10" y1="75.88" x2="434.60" y2="75.88" stroke="#7c7c7c" stroke-width="0.8" />
<text x="432.50" y="77.75" font-size="5.2" font-weight="normal" text-anchor="end" fill="#3a3a3a" stroke="#3a3a3a" stroke-width="0.2" >800</text>
<line x1="434.10" y1="132.40" x2="518.60" y2="132.40" stroke="#444" stroke-width="1.0" />
<line x1="434.70" y1="132.40" x2="434.70" y2="133.90" stroke="#444" stroke-width="0.8" />
<text x="434.70" y="139.60" font-size="5.3" font-weight="normal" text-anchor="middle" fill="#3a3a3a" stroke="#3a3a3a" stroke-width="0.2" >0</text>
<line x1="453.46" y1="132.40" x2="453.46" y2="133.90" stroke="#444" stroke-width="0.8" />
<text x="453.46" y="139.60" font-size="5.3" font-weight="normal" text-anchor="middle" fill="#3a3a3a" stroke="#3a3a3a" stroke-width="0.2" >4</text>
<line x1="472.22" y1="132.40" x2="472.22" y2="133.90" stroke="#444" stroke-width="0.8" />
<text x="472.22" y="139.60" font-size="5.3" font-weight="normal" text-anchor="middle" fill="#3a3a3a" stroke="#3a3a3a" stroke-width="0.2" >8</text>
<line x1="490.98" y1="132.40" x2="490.98" y2="133.90" stroke="#444" stroke-width="0.8" />
<text x="490.98" y="139.60" font-size="5.3" font-weight="normal" text-anchor="middle" fill="#3a3a3a" stroke="#3a3a3a" stroke-width="0.2" >12</text>
<line x1="509.74" y1="132.40" x2="509.74" y2="133.90" stroke="#444" stroke-width="0.8" />
<text x="509.74" y="139.60" font-size="5.3" font-weight="normal" text-anchor="middle" fill="#3a3a3a" stroke="#3a3a3a" stroke-width="0.2" >16</text>
<polyline points="453.46,120.15 472.22,90.76 490.98,115.92 509.74,108.85" fill="none" stroke="#707070" stroke-width="1.0"/>
<line x1="453.46" y1="118.74" x2="453.46" y2="121.57" stroke="#5c5c5c" stroke-width="0.8" />
<line x1="452.16" y1="118.74" x2="454.76" y2="118.74" stroke="#5c5c5c" stroke-width="0.8" />
<line x1="452.16" y1="121.57" x2="454.76" y2="121.57" stroke="#5c5c5c" stroke-width="0.8" />
<rect x="452.26" y="118.95" width="2.40" height="2.40" fill="#5c5c5c" stroke="none" stroke-width="0"/>
<line x1="472.22" y1="86.81" x2="472.22" y2="94.34" stroke="#5c5c5c" stroke-width="0.8" />
<line x1="470.92" y1="86.81" x2="473.52" y2="86.81" stroke="#5c5c5c" stroke-width="0.8" />
<line x1="470.92" y1="94.34" x2="473.52" y2="94.34" stroke="#5c5c5c" stroke-width="0.8" />
<rect x="471.02" y="89.56" width="2.40" height="2.40" fill="#5c5c5c" stroke="none" stroke-width="0"/>
<line x1="490.98" y1="113.56" x2="490.98" y2="118.27" stroke="#5c5c5c" stroke-width="0.8" />
<line x1="489.68" y1="113.56" x2="492.28" y2="113.56" stroke="#5c5c5c" stroke-width="0.8" />
<line x1="489.68" y1="118.27" x2="492.28" y2="118.27" stroke="#5c5c5c" stroke-width="0.8" />
<rect x="489.78" y="114.72" width="2.40" height="2.40" fill="#5c5c5c" stroke="none" stroke-width="0"/>
<line x1="509.74" y1="105.08" x2="509.74" y2="112.62" stroke="#5c5c5c" stroke-width="0.8" />
<line x1="508.44" y1="105.08" x2="511.04" y2="105.08" stroke="#5c5c5c" stroke-width="0.8" />
<line x1="508.44" y1="112.62" x2="511.04" y2="112.62" stroke="#5c5c5c" stroke-width="0.8" />
<rect x="508.54" y="107.65" width="2.40" height="2.40" fill="#5c5c5c" stroke="none" stroke-width="0"/>
<polyline points="453.46,120.81 472.22,102.16 490.98,113.75 509.74,114.50" fill="none" stroke="#4242bc" stroke-width="1.0"/>
<line x1="453.46" y1="119.21" x2="453.46" y2="122.51" stroke="#2020c8" stroke-width="0.8" />
<line x1="452.16" y1="119.21" x2="454.76" y2="119.21" stroke="#2020c8" stroke-width="0.8" />
<line x1="452.16" y1="122.51" x2="454.76" y2="122.51" stroke="#2020c8" stroke-width="0.8" />
<rect x="452.26" y="119.61" width="2.40" height="2.40" fill="#2020c8" stroke="none" stroke-width="0"/>
<line x1="472.22" y1="100.94" x2="472.22" y2="103.39" stroke="#2020c8" stroke-width="0.8" />
<line x1="470.92" y1="100.94" x2="473.52" y2="100.94" stroke="#2020c8" stroke-width="0.8" />
<line x1="470.92" y1="103.39" x2="473.52" y2="103.39" stroke="#2020c8" stroke-width="0.8" />
<rect x="471.02" y="100.96" width="2.40" height="2.40" fill="#2020c8" stroke="none" stroke-width="0"/>
<line x1="490.98" y1="112.81" x2="490.98" y2="114.69" stroke="#2020c8" stroke-width="0.8" />
<line x1="489.68" y1="112.81" x2="492.28" y2="112.81" stroke="#2020c8" stroke-width="0.8" />
<line x1="489.68" y1="114.69" x2="492.28" y2="114.69" stroke="#2020c8" stroke-width="0.8" />
<rect x="489.78" y="112.55" width="2.40" height="2.40" fill="#2020c8" stroke="none" stroke-width="0"/>
<line x1="509.74" y1="111.86" x2="509.74" y2="116.86" stroke="#2020c8" stroke-width="0.8" />
<line x1="508.44" y1="111.86" x2="511.04" y2="111.86" stroke="#2020c8" stroke-width="0.8" />
<line x1="508.44" y1="116.86" x2="511.04" y2="116.86" stroke="#2020c8" stroke-width="0.8" />
<rect x="508.54" y="113.30" width="2.40" height="2.40" fill="#2020c8" stroke="none" stroke-width="0"/>
<text x="473.30" y="71.20" font-size="7.7" font-weight="bold" text-anchor="middle" fill="#1a1a1a" stroke="#1a1a1a" stroke-width="0.14" textLength="9.0" lengthAdjust="spacingAndGlyphs" >Plt</text>
<text x="421.30" y="102.40" font-size="7.2" font-weight="normal" text-anchor="middle" fill="#1a1a1a" stroke="#1a1a1a" stroke-width="0.22" transform="rotate(-90 421.30 102.40)" textLength="24.5" lengthAdjust="spacingAndGlyphs" >10^3/uL</text>
<text x="476.44" y="148.30" font-size="7.2" font-weight="normal" text-anchor="middle" fill="#1a1a1a" stroke="#1a1a1a" stroke-width="0.22" textLength="70.5" lengthAdjust="spacingAndGlyphs" >Weeks post transplant</text>
<text x="0.10" y="175.60" font-size="11.9" font-weight="bold" text-anchor="start" fill="#000" stroke="#000" stroke-width="0.15" >G</text>
<line x1="19.00" y1="175.90" x2="19.00" y2="234.30" stroke="#7c7c7c" stroke-width="1.4" />
<line x1="17.50" y1="234.30" x2="19.00" y2="234.30" stroke="#7c7c7c" stroke-width="0.8" />
<text x="16.90" y="236.21" font-size="5.3" font-weight="normal" text-anchor="end" fill="#3a3a3a" stroke="#3a3a3a" stroke-width="0.2" >0</text>
<line x1="17.50" y1="219.70" x2="19.00" y2="219.70" stroke="#7c7c7c" stroke-width="0.8" />
<text x="16.90" y="221.61" font-size="5.3" font-weight="normal" text-anchor="end" fill="#3a3a3a" stroke="#3a3a3a" stroke-width="0.2" >10</text>
<line x1="17.50" y1="205.10" x2="19.00" y2="205.10" stroke="#7c7c7c" stroke-width="0.8" />
<text x="16.90" y="207.01" font-size="5.3" font-weight="normal" text-anchor="end" fill="#3a3a3a" stroke="#3a3a3a" stroke-width="0.2" >20</text>
<line x1="17.50" y1="190.50" x2="19.00" y2="190.50" stroke="#7c7c7c" stroke-width="0.8" />
<text x="16.90" y="192.41" font-size="5.3" font-weight="normal" text-anchor="end" fill="#3a3a3a" stroke="#3a3a3a" stroke-width="0.2" >30</text>
<line x1="17.50" y1="175.90" x2="19.00" y2="175.90" stroke="#7c7c7c" stroke-width="0.8" />
<text x="16.90" y="177.81" font-size="5.3" font-weight="normal" text-anchor="end" fill="#3a3a3a" stroke="#3a3a3a" stroke-width="0.2" >40</text>
<line x1="18.50" y1="234.30" x2="103.40" y2="234.30" stroke="#444" stroke-width="1.0" />
<line x1="19.00" y1="234.30" x2="19.00" y2="235.80" stroke="#444" stroke-width="0.8" />
<text x="19.00" y="241.50" font-size="5.3" font-weight="normal" text-anchor="middle" fill="#3a3a3a" stroke="#3a3a3a" stroke-width="0.2" >0</text>
<line x1="38.32" y1="234.30" x2="38.32" y2="235.80" stroke="#444" stroke-width="0.8" />
<text x="38.32" y="241.50" font-size="5.3" font-weight="normal" text-anchor="middle" fill="#3a3a3a" stroke="#3a3a3a" stroke-width="0.2" >4</text>
<line x1="57.64" y1="234.30" x2="57.64" y2="235.80" stroke="#444" stroke-width="0.8" />
<text x="57.64" y="241.50" font-size="5.3" font-weight="normal" text-anchor="middle" fill="#3a3a3a" stroke="#3a3a3a" stroke-width="0.2" >8</text>
<line x1="76.96" y1="234.30" x2="76.96" y2="235.80" stroke="#444" stroke-width="0.8" />
<text x="76.96" y="241.50" font-size="5.3" font-weight="normal" text-anchor="middle" fill="#3a3a3a" stroke="#3a3a3a" stroke-width="0.2" >12</text>
<line x1="96.28" y1="234.30" x2="96.28" y2="235.80" stroke="#444" stroke-width="0.8" />
<text x="96.28" y="241.50" font-size="5.3" font-weight="normal" text-anchor="middle" fill="#3a3a3a" stroke="#3a3a3a" stroke-width="0.2" >16</text>
<polyline points="38.32,192.69 57.64,209.77 76.96,208.02 96.28,215.32" fill="none" stroke="#707070" stroke-width="1.0"/>
<line x1="38.32" y1="185.68" x2="38.32" y2="198.97" stroke="#5c5c5c" stroke-width="0.8" />
<line x1="37.02" y1="185.68" x2="39.62" y2="185.68" stroke="#5c5c5c" stroke-width="0.8" />
<line x1="37.02" y1="198.97" x2="39.62" y2="198.97" stroke="#5c5c5c" stroke-width="0.8" />
<rect x="37.12" y="191.49" width="2.40" height="2.40" fill="#5c5c5c" stroke="none" stroke-width="0"/>
<line x1="57.64" y1="206.27" x2="57.64" y2="213.28" stroke="#5c5c5c" stroke-width="0.8" />
<line x1="56.34" y1="206.27" x2="58.94" y2="206.27" stroke="#5c5c5c" stroke-width="0.8" />
<line x1="56.34" y1="213.28" x2="58.94" y2="213.28" stroke="#5c5c5c" stroke-width="0.8" />
<rect x="56.44" y="208.57" width="2.40" height="2.40" fill="#5c5c5c" stroke="none" stroke-width="0"/>
<line x1="76.96" y1="203.93" x2="76.96" y2="212.69" stroke="#5c5c5c" stroke-width="0.8" />
<line x1="75.66" y1="203.93" x2="78.26" y2="203.93" stroke="#5c5c5c" stroke-width="0.8" />
<line x1="75.66" y1="212.69" x2="78.26" y2="212.69" stroke="#5c5c5c" stroke-width="0.8" />
<rect x="75.76" y="206.82" width="2.40" height="2.40" fill="#5c5c5c" stroke="none" stroke-width="0"/>
<line x1="96.28" y1="210.94" x2="96.28" y2="218.68" stroke="#5c5c5c" stroke-width="0.8" />
<line x1="94.98" y1="210.94" x2="97.58" y2="210.94" stroke="#5c5c5c" stroke-width="0.8" />
<line x1="94.98" y1="218.68" x2="97.58" y2="218.68" stroke="#5c5c5c" stroke-width="0.8" />
<rect x="95.08" y="214.12" width="2.40" height="2.40" fill="#5c5c5c" stroke="none" stroke-width="0"/>
<polyline points="38.32,213.42 57.64,221.45 76.96,208.75 96.28,198.97" fill="none" stroke="#4242bc" stroke-width="1.0"/>
<line x1="38.32" y1="209.77" x2="38.32" y2="217.22" stroke="#2020c8" stroke-width="0.8" />
<line x1="37.02" y1="209.77" x2="39.62" y2="209.77" stroke="#2020c8" stroke-width="0.8" />
<line x1="37.02" y1="217.22" x2="39.62" y2="217.22" stroke="#2020c8" stroke-width="0.8" />
<rect x="37.12" y="212.22" width="2.40" height="2.40" fill="#2020c8" stroke="none" stroke-width="0"/>
<line x1="57.64" y1="220.28" x2="57.64" y2="222.62" stroke="#2020c8" stroke-width="0.8" />
<line x1="56.34" y1="220.28" x2="58.94" y2="220.28" stroke="#2020c8" stroke-width="0.8" />
<line x1="56.34" y1="222.62" x2="58.94" y2="222.62" stroke="#2020c8" stroke-width="0.8" />
<rect x="56.44" y="220.25" width="2.40" height="2.40" fill="#2020c8" stroke="none" stroke-width="0"/>
<line x1="76.96" y1="205.39" x2="76.96" y2="211.67" stroke="#2020c8" stroke-width="0.8" />
<line x1="75.66" y1="205.39" x2="78.26" y2="205.39" stroke="#2020c8" stroke-width="0.8" />
<line x1="75.66" y1="211.67" x2="78.26" y2="211.67" stroke="#2020c8" stroke-width="0.8" />
<rect x="75.76" y="207.55" width="2.40" height="2.40" fill="#2020c8" stroke="none" stroke-width="0"/>
<line x1="96.28" y1="187.58" x2="96.28" y2="210.94" stroke="#2020c8" stroke-width="0.8" />
<line x1="94.98" y1="187.58" x2="97.58" y2="187.58" stroke="#2020c8" stroke-width="0.8" />
<line x1="94.98" y1="210.94" x2="97.58" y2="210.94" stroke="#2020c8" stroke-width="0.8" />
<rect x="95.08" y="197.77" width="2.40" height="2.40" fill="#2020c8" stroke="none" stroke-width="0"/>
<text x="56.20" y="173.70" font-size="7.7" font-weight="bold" text-anchor="middle" fill="#1a1a1a" stroke="#1a1a1a" stroke-width="0.14" textLength="35.6" lengthAdjust="spacingAndGlyphs" >Total Cells</text>
<text x="7.60" y="206.00" font-size="7.2" font-weight="normal" text-anchor="middle" fill="#1a1a1a" stroke="#1a1a1a" stroke-width="0.22" transform="rotate(-90 7.60 206.00)" textLength="43.0" lengthAdjust="spacingAndGlyphs" >% donor cells</text>
<text x="61.99" y="250.20" font-size="7.2" font-weight="normal" text-anchor="middle" fill="#1a1a1a" stroke="#1a1a1a" stroke-width="0.22" textLength="70.5" lengthAdjust="spacingAndGlyphs" >Weeks post transplant</text>
<text x="109.40" y="175.60" font-size="11.9" font-weight="bold" text-anchor="start" fill="#000" stroke="#000" stroke-width="0.15" >H</text>
<line x1="129.60" y1="169.10" x2="129.60" y2="233.50" stroke="#7c7c7c" stroke-width="1.4" />
<line x1="128.10" y1="233.50" x2="129.60" y2="233.50" stroke="#7c7c7c" stroke-width="0.8" />
<text x="127.50" y="235.41" font-size="5.3" font-weight="normal" text-anchor="end" fill="#3a3a3a" stroke="#3a3a3a" stroke-width="0.2" >0</text>
<line x1="128.10" y1="217.40" x2="129.60" y2="217.40" stroke="#7c7c7c" stroke-width="0.8" />
<text x="127.50" y="219.31" font-size="5.3" font-weight="normal" text-anchor="end" fill="#3a3a3a" stroke="#3a3a3a" stroke-width="0.2" >20</text>
<line x1="128.10" y1="201.30" x2="129.60" y2="201.30" stroke="#7c7c7c" stroke-width="0.8" />
<text x="127.50" y="203.21" font-size="5.3" font-weight="normal" text-anchor="end" fill="#3a3a3a" stroke="#3a3a3a" stroke-width="0.2" >40</text>
<line x1="128.10" y1="185.20" x2="129.60" y2="185.20" stroke="#7c7c7c" stroke-width="0.8" />
<text x="127.50" y="187.11" font-size="5.3" font-weight="normal" text-anchor="end" fill="#3a3a3a" stroke="#3a3a3a" stroke-width="0.2" >60</text>
<line x1="128.10" y1="169.10" x2="129.60" y2="169.10" stroke="#7c7c7c" stroke-width="0.8" />
<text x="127.50" y="171.01" font-size="5.3" font-weight="normal" text-anchor="end" fill="#3a3a3a" stroke="#3a3a3a" stroke-width="0.2" >80</text>
<line x1="129.10" y1="233.50" x2="187.50" y2="233.50" stroke="#444" stroke-width="1.0" />
<line x1="145.60" y1="233.50" x2="145.60" y2="235.00" stroke="#444" stroke-width="0.8" />
<line x1="176.50" y1="233.50" x2="176.50" y2="235.00" stroke="#444" stroke-width="0.8" />
<text x="145.60" y="241.30" font-size="5.8" font-weight="normal" text-anchor="middle" fill="#1a1a1a" stroke="#1a1a1a" stroke-width="0.22" textLength="8.6" lengthAdjust="spacingAndGlyphs" >WT</text>
<text x="176.60" y="241.30" font-size="5.8" font-weight="normal" text-anchor="middle" fill="#1a1a1a" stroke="#1a1a1a" stroke-width="0.22" textLength="18.6" lengthAdjust="spacingAndGlyphs" >NHD13</text>
<text x="160.00" y="250.80" font-size="6.8" font-weight="normal" text-anchor="middle" fill="#1a1a1a" stroke="#1a1a1a" stroke-width="0.22" textLength="42.5" lengthAdjust="spacingAndGlyphs" >Recipient type</text>
<text x="164.30" y="174.30" font-size="7.6" font-weight="bold" text-anchor="middle" fill="#1a1a1a" stroke="#1a1a1a" stroke-width="0.14" textLength="49.6" lengthAdjust="spacingAndGlyphs" >Total BM LSKs</text>
<text x="116.30" y="201.30" font-size="6.9" font-weight="normal" text-anchor="middle" fill="#1a1a1a" stroke="#1a1a1a" stroke-width="0.22" transform="rotate(-90 116.30 201.30)" textLength="40.5" lengthAdjust="spacingAndGlyphs" >% donor cells</text>
<line x1="145.60" y1="184.20" x2="145.60" y2="189.90" stroke="#444" stroke-width="1.0" />
<line x1="139.80" y1="184.20" x2="151.00" y2="184.20" stroke="#444" stroke-width="1.0" />
<rect x="135.3" y="189.9" width="20.5" height="26.00" fill="none" stroke="#444" stroke-width="1.0"/>
<line x1="135.30" y1="199.20" x2="155.80" y2="199.20" stroke="#444" stroke-width="1.0" />
<line x1="145.60" y1="215.90" x2="145.60" y2="230.70" stroke="#444" stroke-width="1.0" />
<line x1="140.20" y1="230.70" x2="151.00" y2="230.70" stroke="#444" stroke-width="1.0" />
<line x1="171.10" y1="197.20" x2="182.00" y2="197.20" stroke="#444" stroke-width="1.0" />
<line x1="176.50" y1="197.20" x2="176.50" y2="219.50" stroke="#444" stroke-width="1.0" />
<line x1="166.10" y1="216.30" x2="186.80" y2="216.30" stroke="#444" stroke-width="1.0" />
<line x1="171.40" y1="219.50" x2="182.00" y2="219.50" stroke="#444" stroke-width="1.0" />
<text x="202.60" y="175.60" font-size="11.9" font-weight="bold" text-anchor="start" fill="#000" stroke="#000" stroke-width="0.15" >I</text>
<rect x="217.40" y="188.30" width="84.80" height="14.44" fill="#dadafb" stroke="none" stroke-width="0"/>
<line x1="217.40" y1="176.20" x2="217.40" y2="234.00" stroke="#7c7c7c" stroke-width="1.4" />
<line x1="215.90" y1="234.00" x2="217.40" y2="234.00" stroke="#7c7c7c" stroke-width="0.8" />
<text x="215.30" y="235.91" font-size="5.3" font-weight="normal" text-anchor="end" fill="#3a3a3a" stroke="#3a3a3a" stroke-width="0.2" >8</text>
<line x1="215.90" y1="219.56" x2="217.40" y2="219.56" stroke="#7c7c7c" stroke-width="0.8" />
<text x="215.30" y="221.47" font-size="5.3" font-weight="normal" text-anchor="end" fill="#3a3a3a" stroke="#3a3a3a" stroke-width="0.2" >10</text>
<line x1="215.90" y1="205.12" x2="217.40" y2="205.12" stroke="#7c7c7c" stroke-width="0.8" />
<text x="215.30" y="207.03" font-size="5.3" font-weight="normal" text-anchor="end" fill="#3a3a3a" stroke="#3a3a3a" stroke-width="0.2" >12</text>
<line x1="215.90" y1="190.68" x2="217.40" y2="190.68" stroke="#7c7c7c" stroke-width="0.8" />
<text x="215.30" y="192.59" font-size="5.3" font-weight="normal" text-anchor="end" fill="#3a3a3a" stroke="#3a3a3a" stroke-width="0.2" >14</text>
<line x1="215.90" y1="176.24" x2="217.40" y2="176.24" stroke="#7c7c7c" stroke-width="0.8" />
<text x="215.30" y="178.15" font-size="5.3" font-weight="normal" text-anchor="end" fill="#3a3a3a" stroke="#3a3a3a" stroke-width="0.2" >16</text>
<line x1="216.90" y1="234.00" x2="302.20" y2="234.00" stroke="#444" stroke-width="1.0" />
<line x1="217.50" y1="234.00" x2="217.50" y2="235.50" stroke="#444" stroke-width="0.8" />
<text x="217.50" y="241.20" font-size="5.3" font-weight="normal" text-anchor="middle" fill="#3a3a3a" stroke="#3a3a3a" stroke-width="0.2" >0</text>
<line x1="236.42" y1="234.00" x2="236.42" y2="235.50" stroke="#444" stroke-width="0.8" />
<text x="236.42" y="241.20" font-size="5.3" font-weight="normal" text-anchor="middle" fill="#3a3a3a" stroke="#3a3a3a" stroke-width="0.2" >4</text>
<line x1="255.34" y1="234.00" x2="255.34" y2="235.50" stroke="#444" stroke-width="0.8" />
<text x="255.34" y="241.20" font-size="5.3" font-weight="normal" text-anchor="middle" fill="#3a3a3a" stroke="#3a3a3a" stroke-width="0.2" >8</text>
<line x1="274.26" y1="234.00" x2="274.26" y2="235.50" stroke="#444" stroke-width="0.8" />
<text x="274.26" y="241.20" font-size="5.3" font-weight="normal" text-anchor="middle" fill="#3a3a3a" stroke="#3a3a3a" stroke-width="0.2" >12</text>
<line x1="293.18" y1="234.00" x2="293.18" y2="235.50" stroke="#444" stroke-width="0.8" />
<text x="293.18" y="241.20" font-size="5.3" font-weight="normal" text-anchor="middle" fill="#3a3a3a" stroke="#3a3a3a" stroke-width="0.2" >16</text>
<polyline points="236.42,206.20 255.34,183.89 274.26,187.07 293.18,194.29" fill="none" stroke="#707070" stroke-width="1.0"/>
<line x1="236.42" y1="205.12" x2="236.42" y2="207.29" stroke="#5c5c5c" stroke-width="0.8" />
<line x1="235.12" y1="205.12" x2="237.72" y2="205.12" stroke="#5c5c5c" stroke-width="0.8" />
<line x1="235.12" y1="207.29" x2="237.72" y2="207.29" stroke="#5c5c5c" stroke-width="0.8" />
<rect x="235.22" y="205.00" width="2.40" height="2.40" fill="#5c5c5c" stroke="none" stroke-width="0"/>
<line x1="255.34" y1="182.74" x2="255.34" y2="184.90" stroke="#5c5c5c" stroke-width="0.8" />
<line x1="254.04" y1="182.74" x2="256.64" y2="182.74" stroke="#5c5c5c" stroke-width="0.8" />
<line x1="254.04" y1="184.90" x2="256.64" y2="184.90" stroke="#5c5c5c" stroke-width="0.8" />
<rect x="254.14" y="182.69" width="2.40" height="2.40" fill="#5c5c5c" stroke="none" stroke-width="0"/>
<line x1="274.26" y1="182.74" x2="274.26" y2="190.97" stroke="#5c5c5c" stroke-width="0.8" />
<line x1="272.96" y1="182.74" x2="275.56" y2="182.74" stroke="#5c5c5c" stroke-width="0.8" />
<line x1="272.96" y1="190.97" x2="275.56" y2="190.97" stroke="#5c5c5c" stroke-width="0.8" />
<rect x="273.06" y="185.87" width="2.40" height="2.40" fill="#5c5c5c" stroke="none" stroke-width="0"/>
<line x1="293.18" y1="190.68" x2="293.18" y2="198.98" stroke="#5c5c5c" stroke-width="0.8" />
<line x1="291.88" y1="190.68" x2="294.48" y2="190.68" stroke="#5c5c5c" stroke-width="0.8" />
<line x1="291.88" y1="198.98" x2="294.48" y2="198.98" stroke="#5c5c5c" stroke-width="0.8" />
<rect x="291.98" y="193.09" width="2.40" height="2.40" fill="#5c5c5c" stroke="none" stroke-width="0"/>
<polyline points="236.42,199.78 255.34,190.68 274.26,202.74 293.18,210.61" fill="none" stroke="#4242bc" stroke-width="1.0"/>
<line x1="236.42" y1="192.63" x2="236.42" y2="207.00" stroke="#2020c8" stroke-width="0.8" />
<line x1="235.12" y1="192.63" x2="237.72" y2="192.63" stroke="#2020c8" stroke-width="0.8" />
<line x1="235.12" y1="207.00" x2="237.72" y2="207.00" stroke="#2020c8" stroke-width="0.8" />
<rect x="235.22" y="198.58" width="2.40" height="2.40" fill="#2020c8" stroke="none" stroke-width="0"/>
<line x1="255.34" y1="186.35" x2="255.34" y2="197.90" stroke="#2020c8" stroke-width="0.8" />
<line x1="254.04" y1="186.35" x2="256.64" y2="186.35" stroke="#2020c8" stroke-width="0.8" />
<line x1="254.04" y1="197.90" x2="256.64" y2="197.90" stroke="#2020c8" stroke-width="0.8" />
<rect x="254.14" y="189.48" width="2.40" height="2.40" fill="#2020c8" stroke="none" stroke-width="0"/>
<line x1="274.26" y1="196.46" x2="274.26" y2="209.02" stroke="#2020c8" stroke-width="0.8" />
<line x1="272.96" y1="196.46" x2="275.56" y2="196.46" stroke="#2020c8" stroke-width="0.8" />
<line x1="272.96" y1="209.02" x2="275.56" y2="209.02" stroke="#2020c8" stroke-width="0.8" />
<rect x="273.06" y="201.54" width="2.40" height="2.40" fill="#2020c8" stroke="none" stroke-width="0"/>
<line x1="293.18" y1="208.01" x2="293.18" y2="213.78" stroke="#2020c8" stroke-width="0.8" />
<line x1="291.88" y1="208.01" x2="294.48" y2="208.01" stroke="#2020c8" stroke-width="0.8" />
<line x1="291.88" y1="213.78" x2="294.48" y2="213.78" stroke="#2020c8" stroke-width="0.8" />
<rect x="291.98" y="209.41" width="2.40" height="2.40" fill="#2020c8" stroke="none" stroke-width="0"/>
<text x="256.00" y="174.30" font-size="7.7" font-weight="bold" text-anchor="middle" fill="#1a1a1a" stroke="#1a1a1a" stroke-width="0.14" textLength="14.0" lengthAdjust="spacingAndGlyphs" >Hgb</text>
<text x="205.30" y="204.30" font-size="6.4" font-weight="normal" text-anchor="middle" fill="#1a1a1a" stroke="#1a1a1a" stroke-width="0.22" transform="rotate(-90 205.30 204.30)" textLength="13.4" lengthAdjust="spacingAndGlyphs" >g/dL</text>
<text x="259.60" y="249.90" font-size="7.2" font-weight="normal" text-anchor="middle" fill="#1a1a1a" stroke="#1a1a1a" stroke-width="0.22" textLength="70.5" lengthAdjust="spacingAndGlyphs" >Weeks post transplant</text>
<text x="308.00" y="175.60" font-size="11.9" font-weight="bold" text-anchor="start" fill="#000" stroke="#000" stroke-width="0.15" >J</text>
<rect x="324.70" y="176.00" width="85.30" height="27.03" fill="#dadafb" stroke="none" stroke-width="0"/>
<line x1="324.70" y1="176.00" x2="324.70" y2="233.50" stroke="#7c7c7c" stroke-width="1.4" />
<line x1="323.20" y1="233.50" x2="324.70" y2="233.50" stroke="#7c7c7c" stroke-width="0.8" />
<text x="322.60" y="235.41" font-size="5.3" font-weight="normal" text-anchor="end" fill="#3a3a3a" stroke="#3a3a3a" stroke-width="0.2" >0</text>
<line x1="323.20" y1="222.00" x2="324.70" y2="222.00" stroke="#7c7c7c" stroke-width="0.8" />
<text x="322.60" y="223.91" font-size="5.3" font-weight="normal" text-anchor="end" fill="#3a3a3a" stroke="#3a3a3a" stroke-width="0.2" >2</text>
<line x1="323.20" y1="210.50" x2="324.70" y2="210.50" stroke="#7c7c7c" stroke-width="0.8" />
<text x="322.60" y="212.41" font-size="5.3" font-weight="normal" text-anchor="end" fill="#3a3a3a" stroke="#3a3a3a" stroke-width="0.2" >4</text>
<line x1="323.20" y1="199.00" x2="324.70" y2="199.00" stroke="#7c7c7c" stroke-width="0.8" />
<text x="322.60" y="200.91" font-size="5.3" font-weight="normal" text-anchor="end" fill="#3a3a3a" stroke="#3a3a3a" stroke-width="0.2" >6</text>
<line x1="323.20" y1="187.50" x2="324.70" y2="187.50" stroke="#7c7c7c" stroke-width="0.8" />
<text x="322.60" y="189.41" font-size="5.3" font-weight="normal" text-anchor="end" fill="#3a3a3a" stroke="#3a3a3a" stroke-width="0.2" >8</text>
<line x1="323.20" y1="176.00" x2="324.70" y2="176.00" stroke="#7c7c7c" stroke-width="0.8" />
<text x="322.60" y="177.91" font-size="5.3" font-weight="normal" text-anchor="end" fill="#3a3a3a" stroke="#3a3a3a" stroke-width="0.2" >10</text>
<line x1="324.20" y1="233.50" x2="410.00" y2="233.50" stroke="#444" stroke-width="1.0" />
<line x1="324.60" y1="233.50" x2="324.60" y2="235.00" stroke="#444" stroke-width="0.8" />
<text x="324.60" y="240.70" font-size="5.3" font-weight="normal" text-anchor="middle" fill="#3a3a3a" stroke="#3a3a3a" stroke-width="0.2" >0</text>
<line x1="343.48" y1="233.50" x2="343.48" y2="235.00" stroke="#444" stroke-width="0.8" />
<text x="343.48" y="240.70" font-size="5.3" font-weight="normal" text-anchor="middle" fill="#3a3a3a" stroke="#3a3a3a" stroke-width="0.2" >4</text>
<line x1="362.36" y1="233.50" x2="362.36" y2="235.00" stroke="#444" stroke-width="0.8" />
<text x="362.36" y="240.70" font-size="5.3" font-weight="normal" text-anchor="middle" fill="#3a3a3a" stroke="#3a3a3a" stroke-width="0.2" >8</text>
<line x1="381.24" y1="233.50" x2="381.24" y2="235.00" stroke="#444" stroke-width="0.8" />
<text x="381.24" y="240.70" font-size="5.3" font-weight="normal" text-anchor="middle" fill="#3a3a3a" stroke="#3a3a3a" stroke-width="0.2" >12</text>
<line x1="400.12" y1="233.50" x2="400.12" y2="235.00" stroke="#444" stroke-width="0.8" />
<text x="400.12" y="240.70" font-size="5.3" font-weight="normal" text-anchor="middle" fill="#3a3a3a" stroke="#3a3a3a" stroke-width="0.2" >16</text>
<polyline points="343.48,215.68 362.36,187.10 381.24,194.23 400.12,197.91" fill="none" stroke="#707070" stroke-width="1.0"/>
<line x1="343.48" y1="214.53" x2="343.48" y2="216.82" stroke="#5c5c5c" stroke-width="0.8" />
<line x1="342.18" y1="214.53" x2="344.78" y2="214.53" stroke="#5c5c5c" stroke-width="0.8" />
<line x1="342.18" y1="216.82" x2="344.78" y2="216.82" stroke="#5c5c5c" stroke-width="0.8" />
<rect x="342.28" y="214.48" width="2.40" height="2.40" fill="#5c5c5c" stroke="none" stroke-width="0"/>
<line x1="362.36" y1="183.59" x2="362.36" y2="189.51" stroke="#5c5c5c" stroke-width="0.8" />
<line x1="361.06" y1="183.59" x2="363.66" y2="183.59" stroke="#5c5c5c" stroke-width="0.8" />
<line x1="361.06" y1="189.51" x2="363.66" y2="189.51" stroke="#5c5c5c" stroke-width="0.8" />
<rect x="361.16" y="185.90" width="2.40" height="2.40" fill="#5c5c5c" stroke="none" stroke-width="0"/>
<line x1="381.24" y1="186.35" x2="381.24" y2="202.22" stroke="#5c5c5c" stroke-width="0.8" />
<line x1="379.94" y1="186.35" x2="382.54" y2="186.35" stroke="#5c5c5c" stroke-width="0.8" />
<line x1="379.94" y1="202.22" x2="382.54" y2="202.22" stroke="#5c5c5c" stroke-width="0.8" />
<rect x="380.04" y="193.03" width="2.40" height="2.40" fill="#5c5c5c" stroke="none" stroke-width="0"/>
<line x1="400.12" y1="190.38" x2="400.12" y2="205.38" stroke="#5c5c5c" stroke-width="0.8" />
<line x1="398.82" y1="190.38" x2="401.42" y2="190.38" stroke="#5c5c5c" stroke-width="0.8" />
<line x1="398.82" y1="205.38" x2="401.42" y2="205.38" stroke="#5c5c5c" stroke-width="0.8" />
<rect x="398.92" y="196.71" width="2.40" height="2.40" fill="#5c5c5c" stroke="none" stroke-width="0"/>
<polyline points="343.48,216.48 362.36,201.88 381.24,214.12 400.12,219.87" fill="none" stroke="#4242bc" stroke-width="1.0"/>
<line x1="343.48" y1="214.70" x2="343.48" y2="219.87" stroke="#2020c8" stroke-width="0.8" />
<line x1="342.18" y1="214.70" x2="344.78" y2="214.70" stroke="#2020c8" stroke-width="0.8" />
<line x1="342.18" y1="219.87" x2="344.78" y2="219.87" stroke="#2020c8" stroke-width="0.8" />
<rect x="342.28" y="215.28" width="2.40" height="2.40" fill="#2020c8" stroke="none" stroke-width="0"/>
<line x1="362.36" y1="191.81" x2="362.36" y2="211.31" stroke="#2020c8" stroke-width="0.8" />
<line x1="361.06" y1="191.81" x2="363.66" y2="191.81" stroke="#2020c8" stroke-width="0.8" />
<line x1="361.06" y1="211.31" x2="363.66" y2="211.31" stroke="#2020c8" stroke-width="0.8" />
<rect x="361.16" y="200.68" width="2.40" height="2.40" fill="#2020c8" stroke="none" stroke-width="0"/>
<line x1="381.24" y1="209.69" x2="381.24" y2="218.09" stroke="#2020c8" stroke-width="0.8" />
<line x1="379.94" y1="209.69" x2="382.54" y2="209.69" stroke="#2020c8" stroke-width="0.8" />
<line x1="379.94" y1="218.09" x2="382.54" y2="218.09" stroke="#2020c8" stroke-width="0.8" />
<rect x="380.04" y="212.92" width="2.40" height="2.40" fill="#2020c8" stroke="none" stroke-width="0"/>
<line x1="400.12" y1="219.41" x2="400.12" y2="220.28" stroke="#2020c8" stroke-width="0.8" />
<line x1="398.82" y1="219.41" x2="401.42" y2="219.41" stroke="#2020c8" stroke-width="0.8" />
<line x1="398.82" y1="220.28" x2="401.42" y2="220.28" stroke="#2020c8" stroke-width="0.8" />
<rect x="398.92" y="218.67" width="2.40" height="2.40" fill="#2020c8" stroke="none" stroke-width="0"/>
<text x="367.40" y="173.90" font-size="7.7" font-weight="bold" text-anchor="middle" fill="#1a1a1a" stroke="#1a1a1a" stroke-width="0.14" textLength="17.5" lengthAdjust="spacingAndGlyphs" >WBC</text>
<text x="313.00" y="204.50" font-size="7.2" font-weight="normal" text-anchor="middle" fill="#1a1a1a" stroke="#1a1a1a" stroke-width="0.22" transform="rotate(-90 313.00 204.50)" textLength="22.0" lengthAdjust="spacingAndGlyphs" >10^3/uL</text>
<text x="366.61" y="249.40" font-size="7.2" font-weight="normal" text-anchor="middle" fill="#1a1a1a" stroke="#1a1a1a" stroke-width="0.22" textLength="70.5" lengthAdjust="spacingAndGlyphs" >Weeks post transplant</text>
<text x="415.20" y="175.60" font-size="11.9" font-weight="bold" text-anchor="start" fill="#000" stroke="#000" stroke-width="0.15" >K</text>
<rect x="434.70" y="204.07" width="82.70" height="8.57" fill="#dadafb" stroke="none" stroke-width="0"/>
<line x1="434.70" y1="178.00" x2="434.70" y2="233.30" stroke="#7c7c7c" stroke-width="1.4" />
<line x1="433.20" y1="233.30" x2="434.70" y2="233.30" stroke="#7c7c7c" stroke-width="0.8" />
<text x="432.60" y="235.17" font-size="5.2" font-weight="normal" text-anchor="end" fill="#3a3a3a" stroke="#3a3a3a" stroke-width="0.2" >200</text>
<line x1="433.20" y1="224.08" x2="434.70" y2="224.08" stroke="#7c7c7c" stroke-width="0.8" />
<text x="432.60" y="225.95" font-size="5.2" font-weight="normal" text-anchor="end" fill="#3a3a3a" stroke="#3a3a3a" stroke-width="0.2" >300</text>
<line x1="433.20" y1="214.86" x2="434.70" y2="214.86" stroke="#7c7c7c" stroke-width="0.8" />
<text x="432.60" y="216.73" font-size="5.2" font-weight="normal" text-anchor="end" fill="#3a3a3a" stroke="#3a3a3a" stroke-width="0.2" >400</text>
<line x1="433.20" y1="205.64" x2="434.70" y2="205.64" stroke="#7c7c7c" stroke-width="0.8" />
<text x="432.60" y="207.51" font-size="5.2" font-weight="normal" text-anchor="end" fill="#3a3a3a" stroke="#3a3a3a" stroke-width="0.2" >500</text>
<line x1="433.20" y1="196.42" x2="434.70" y2="196.42" stroke="#7c7c7c" stroke-width="0.8" />
<text x="432.60" y="198.29" font-size="5.2" font-weight="normal" text-anchor="end" fill="#3a3a3a" stroke="#3a3a3a" stroke-width="0.2" >600</text>
<line x1="433.20" y1="187.20" x2="434.70" y2="187.20" stroke="#7c7c7c" stroke-width="0.8" />
<text x="432.60" y="189.07" font-size="5.2" font-weight="normal" text-anchor="end" fill="#3a3a3a" stroke="#3a3a3a" stroke-width="0.2" >700</text>
<line x1="433.20" y1="177.98" x2="434.70" y2="177.98" stroke="#7c7c7c" stroke-width="0.8" />
<text x="432.60" y="179.85" font-size="5.2" font-weight="normal" text-anchor="end" fill="#3a3a3a" stroke="#3a3a3a" stroke-width="0.2" >800</text>
<line x1="434.20" y1="233.30" x2="517.40" y2="233.30" stroke="#444" stroke-width="1.0" />
<line x1="434.70" y1="233.30" x2="434.70" y2="234.80" stroke="#444" stroke-width="0.8" />
<text x="434.70" y="240.50" font-size="5.3" font-weight="normal" text-anchor="middle" fill="#3a3a3a" stroke="#3a3a3a" stroke-width="0.2" >0</text>
<line x1="453.46" y1="233.30" x2="453.46" y2="234.80" stroke="#444" stroke-width="0.8" />
<text x="453.46" y="240.50" font-size="5.3" font-weight="normal" text-anchor="middle" fill="#3a3a3a" stroke="#3a3a3a" stroke-width="0.2" >4</text>
<line x1="472.22" y1="233.30" x2="472.22" y2="234.80" stroke="#444" stroke-width="0.8" />
<text x="472.22" y="240.50" font-size="5.3" font-weight="normal" text-anchor="middle" fill="#3a3a3a" stroke="#3a3a3a" stroke-width="0.2" >8</text>
<line x1="490.98" y1="233.30" x2="490.98" y2="234.80" stroke="#444" stroke-width="0.8" />
<text x="490.98" y="240.50" font-size="5.3" font-weight="normal" text-anchor="middle" fill="#3a3a3a" stroke="#3a3a3a" stroke-width="0.2" >12</text>
<line x1="509.74" y1="233.30" x2="509.74" y2="234.80" stroke="#444" stroke-width="0.8" />
<text x="509.74" y="240.50" font-size="5.3" font-weight="normal" text-anchor="middle" fill="#3a3a3a" stroke="#3a3a3a" stroke-width="0.2" >16</text>
<polyline points="453.46,210.25 472.22,201.68 490.98,207.02 509.74,206.47" fill="none" stroke="#707070" stroke-width="1.0"/>
<line x1="453.46" y1="204.90" x2="453.46" y2="215.41" stroke="#5c5c5c" stroke-width="0.8" />
<line x1="452.16" y1="204.90" x2="454.76" y2="204.90" stroke="#5c5c5c" stroke-width="0.8" />
<line x1="452.16" y1="215.41" x2="454.76" y2="215.41" stroke="#5c5c5c" stroke-width="0.8" />
<rect x="452.26" y="209.05" width="2.40" height="2.40" fill="#5c5c5c" stroke="none" stroke-width="0"/>
<line x1="472.22" y1="199.00" x2="472.22" y2="205.36" stroke="#5c5c5c" stroke-width="0.8" />
<line x1="470.92" y1="199.00" x2="473.52" y2="199.00" stroke="#5c5c5c" stroke-width="0.8" />
<line x1="470.92" y1="205.36" x2="473.52" y2="205.36" stroke="#5c5c5c" stroke-width="0.8" />
<rect x="471.02" y="200.48" width="2.40" height="2.40" fill="#5c5c5c" stroke="none" stroke-width="0"/>
<line x1="490.98" y1="203.80" x2="490.98" y2="209.42" stroke="#5c5c5c" stroke-width="0.8" />
<line x1="489.68" y1="203.80" x2="492.28" y2="203.80" stroke="#5c5c5c" stroke-width="0.8" />
<line x1="489.68" y1="209.42" x2="492.28" y2="209.42" stroke="#5c5c5c" stroke-width="0.8" />
<rect x="489.78" y="205.82" width="2.40" height="2.40" fill="#5c5c5c" stroke="none" stroke-width="0"/>
<line x1="509.74" y1="202.23" x2="509.74" y2="210.99" stroke="#5c5c5c" stroke-width="0.8" />
<line x1="508.44" y1="202.23" x2="511.04" y2="202.23" stroke="#5c5c5c" stroke-width="0.8" />
<line x1="508.44" y1="210.99" x2="511.04" y2="210.99" stroke="#5c5c5c" stroke-width="0.8" />
<rect x="508.54" y="205.27" width="2.40" height="2.40" fill="#5c5c5c" stroke="none" stroke-width="0"/>
<polyline points="453.46,219.47 472.22,197.43 490.98,212.09 509.74,220.85" fill="none" stroke="#4242bc" stroke-width="1.0"/>
<line x1="453.46" y1="218.73" x2="453.46" y2="220.21" stroke="#2020c8" stroke-width="0.8" />
<line x1="452.16" y1="218.73" x2="454.76" y2="218.73" stroke="#2020c8" stroke-width="0.8" />
<line x1="452.16" y1="220.21" x2="454.76" y2="220.21" stroke="#2020c8" stroke-width="0.8" />
<rect x="452.26" y="218.27" width="2.40" height="2.40" fill="#2020c8" stroke="none" stroke-width="0"/>
<line x1="472.22" y1="192.64" x2="472.22" y2="202.23" stroke="#2020c8" stroke-width="0.8" />
<line x1="470.92" y1="192.64" x2="473.52" y2="192.64" stroke="#2020c8" stroke-width="0.8" />
<line x1="470.92" y1="202.23" x2="473.52" y2="202.23" stroke="#2020c8" stroke-width="0.8" />
<rect x="471.02" y="196.23" width="2.40" height="2.40" fill="#2020c8" stroke="none" stroke-width="0"/>
<line x1="490.98" y1="209.05" x2="490.98" y2="215.78" stroke="#2020c8" stroke-width="0.8" />
<line x1="489.68" y1="209.05" x2="492.28" y2="209.05" stroke="#2020c8" stroke-width="0.8" />
<line x1="489.68" y1="215.78" x2="492.28" y2="215.78" stroke="#2020c8" stroke-width="0.8" />
<rect x="489.78" y="210.89" width="2.40" height="2.40" fill="#2020c8" stroke="none" stroke-width="0"/>
<line x1="509.74" y1="215.23" x2="509.74" y2="226.29" stroke="#2020c8" stroke-width="0.8" />
<line x1="508.44" y1="215.23" x2="511.04" y2="215.23" stroke="#2020c8" stroke-width="0.8" />
<line x1="508.44" y1="226.29" x2="511.04" y2="226.29" stroke="#2020c8" stroke-width="0.8" />
<rect x="508.54" y="219.65" width="2.40" height="2.40" fill="#2020c8" stroke="none" stroke-width="0"/>
<text x="473.30" y="174.30" font-size="7.7" font-weight="bold" text-anchor="middle" fill="#1a1a1a" stroke="#1a1a1a" stroke-width="0.14" textLength="9.0" lengthAdjust="spacingAndGlyphs" >Plt</text>
<text x="421.30" y="204.10" font-size="7.2" font-weight="normal" text-anchor="middle" fill="#1a1a1a" stroke="#1a1a1a" stroke-width="0.22" transform="rotate(-90 421.30 204.10)" textLength="23.0" lengthAdjust="spacingAndGlyphs" >10^3/uL</text>
<text x="476.44" y="249.20" font-size="7.2" font-weight="normal" text-anchor="middle" fill="#1a1a1a" stroke="#1a1a1a" stroke-width="0.22" textLength="70.5" lengthAdjust="spacingAndGlyphs" >Weeks post transplant</text>
<text x="1.60" y="277.40" font-size="10.5" font-weight="bold" text-anchor="start" fill="#000" stroke="#000" stroke-width="0.15" >L</text>
<text x="67.65" y="275.00" font-size="7.3" font-weight="bold" text-anchor="middle" fill="#1a1a1a" stroke="#1a1a1a" stroke-width="0.06" textLength="102.0" lengthAdjust="spacingAndGlyphs" style="white-space:pre">CD45.1+ WT Competitor  Cell</text>
<text x="66.85" y="283.00" font-size="7.0" font-weight="bold" text-anchor="middle" fill="#1a1a1a" stroke="#1a1a1a" stroke-width="0.06" textLength="41.5" lengthAdjust="spacingAndGlyphs" >Composition</text>
<line x1="34.00" y1="281.00" x2="34.00" y2="331.70" stroke="#7c7c7c" stroke-width="1.4" />
<line x1="32.50" y1="281.00" x2="34.00" y2="281.00" stroke="#7c7c7c" stroke-width="0.8" />
<text x="31.90" y="282.70" font-size="4.7" font-weight="normal" text-anchor="end" fill="#3a3a3a" stroke="#3a3a3a" stroke-width="0.2" >105</text>
<line x1="32.50" y1="293.68" x2="34.00" y2="293.68" stroke="#7c7c7c" stroke-width="0.8" />
<text x="31.90" y="295.38" font-size="4.7" font-weight="normal" text-anchor="end" fill="#3a3a3a" stroke="#3a3a3a" stroke-width="0.2" >100</text>
<line x1="32.50" y1="306.35" x2="34.00" y2="306.35" stroke="#7c7c7c" stroke-width="0.8" />
<text x="31.90" y="308.05" font-size="4.7" font-weight="normal" text-anchor="end" fill="#3a3a3a" stroke="#3a3a3a" stroke-width="0.2" >95</text>
<line x1="32.50" y1="319.02" x2="34.00" y2="319.02" stroke="#7c7c7c" stroke-width="0.8" />
<text x="31.90" y="320.72" font-size="4.7" font-weight="normal" text-anchor="end" fill="#3a3a3a" stroke="#3a3a3a" stroke-width="0.2" >90</text>
<line x1="32.50" y1="331.70" x2="34.00" y2="331.70" stroke="#7c7c7c" stroke-width="0.8" />
<text x="31.90" y="333.40" font-size="4.7" font-weight="normal" text-anchor="end" fill="#3a3a3a" stroke="#3a3a3a" stroke-width="0.2" >85</text>
<line x1="34.00" y1="336.00" x2="34.00" y2="349.20" stroke="#7c7c7c" stroke-width="1.4" />
<line x1="32.50" y1="336.60" x2="34.00" y2="336.60" stroke="#7c7c7c" stroke-width="0.8" />
<text x="31.90" y="338.30" font-size="4.7" font-weight="normal" text-anchor="end" fill="#3a3a3a" stroke="#3a3a3a" stroke-width="0.2" >5</text>
<line x1="32.50" y1="349.20" x2="34.00" y2="349.20" stroke="#7c7c7c" stroke-width="0.8" />
<text x="31.90" y="350.90" font-size="4.7" font-weight="normal" text-anchor="end" fill="#3a3a3a" stroke="#3a3a3a" stroke-width="0.2" >0</text>
<line x1="33.50" y1="349.20" x2="98.50" y2="349.20" stroke="#444" stroke-width="1.0" />
<line x1="50.00" y1="349.20" x2="50.00" y2="350.70" stroke="#444" stroke-width="0.8" />
<line x1="81.85" y1="349.20" x2="81.85" y2="350.70" stroke="#444" stroke-width="0.8" />
<text x="49.60" y="356.60" font-size="5.4" font-weight="normal" text-anchor="middle" fill="#1a1a1a" stroke="#1a1a1a" stroke-width="0.22" textLength="8.0" lengthAdjust="spacingAndGlyphs" >WT</text>
<text x="82.00" y="356.60" font-size="5.4" font-weight="normal" text-anchor="middle" fill="#1a1a1a" stroke="#1a1a1a" stroke-width="0.22" textLength="17.0" lengthAdjust="spacingAndGlyphs" >NHD13</text>
<text x="65.40" y="365.80" font-size="6.4" font-weight="normal" text-anchor="middle" fill="#1a1a1a" stroke="#1a1a1a" stroke-width="0.22" textLength="40.0" lengthAdjust="spacingAndGlyphs" >Recipient type</text>
<text x="17.50" y="315.80" font-size="6.5" font-weight="normal" text-anchor="middle" fill="#1a1a1a" stroke="#1a1a1a" stroke-width="0.22" transform="rotate(-90 17.50 315.80)" textLength="54.5" lengthAdjust="spacingAndGlyphs" >% of CD45.1+ cells</text>
<rect x="39.2" y="293.68" width="21.60" height="9.63" fill="#fff" stroke="#222" stroke-width="0.9"/>
<rect x="39.2" y="303.31" width="21.60" height="28.29" fill="#7a7a7a" stroke="#222" stroke-width="0.9"/>
<rect x="39.2" y="336.0" width="21.60" height="13.20" fill="#7a7a7a" stroke="#222" stroke-width="0.9"/>
<line x1="50.00" y1="292.91" x2="50.00" y2="294.18" stroke="#222" stroke-width="0.9" />
<line x1="44.50" y1="292.91" x2="55.50" y2="292.91" stroke="#222" stroke-width="0.9" />
<line x1="44.50" y1="294.18" x2="55.50" y2="294.18" stroke="#222" stroke-width="0.9" />
<line x1="50.00" y1="302.29" x2="50.00" y2="304.07" stroke="#222" stroke-width="0.9" />
<line x1="44.50" y1="302.29" x2="55.50" y2="302.29" stroke="#222" stroke-width="0.9" />
<line x1="44.50" y1="304.07" x2="55.50" y2="304.07" stroke="#222" stroke-width="0.9" />
<rect x="71.2" y="297.98" width="21.60" height="16.60" fill="#fff" stroke="#222" stroke-width="0.9"/>
<rect x="71.2" y="314.59" width="21.60" height="17.01" fill="#7a7a7a" stroke="#222" stroke-width="0.9"/>
<rect x="71.2" y="336.0" width="21.60" height="13.20" fill="#7a7a7a" stroke="#222" stroke-width="0.9"/>
<line x1="82.00" y1="294.18" x2="82.00" y2="301.91" stroke="#222" stroke-width="0.9" />
<line x1="76.50" y1="294.18" x2="87.50" y2="294.18" stroke="#222" stroke-width="0.9" />
<line x1="76.50" y1="301.91" x2="87.50" y2="301.91" stroke="#222" stroke-width="0.9" />
<line x1="82.00" y1="311.04" x2="82.00" y2="318.26" stroke="#222" stroke-width="0.9" />
<line x1="76.50" y1="311.04" x2="87.50" y2="311.04" stroke="#222" stroke-width="0.9" />
<line x1="76.50" y1="318.26" x2="87.50" y2="318.26" stroke="#222" stroke-width="0.9" />
<rect x="30.0" y="371.3" width="7.6" height="4.0" fill="#fff" stroke="#222" stroke-width="0.9"/>
<rect x="69.6" y="371.3" width="7.4" height="4.0" fill="#7a7a7a" stroke="#222" stroke-width="0.9"/>
<text x="40.80" y="375.60" font-size="6.4" font-weight="normal" text-anchor="start" fill="#1a1a1a" stroke="#1a1a1a" stroke-width="0.22" textLength="22.0" lengthAdjust="spacingAndGlyphs" >Myeloid</text>
<text x="80.40" y="375.60" font-size="6.4" font-weight="normal" text-anchor="start" fill="#1a1a1a" stroke="#1a1a1a" stroke-width="0.22" textLength="27.0" lengthAdjust="spacingAndGlyphs" >Lymphoid</text>
</svg>
</body></html>
